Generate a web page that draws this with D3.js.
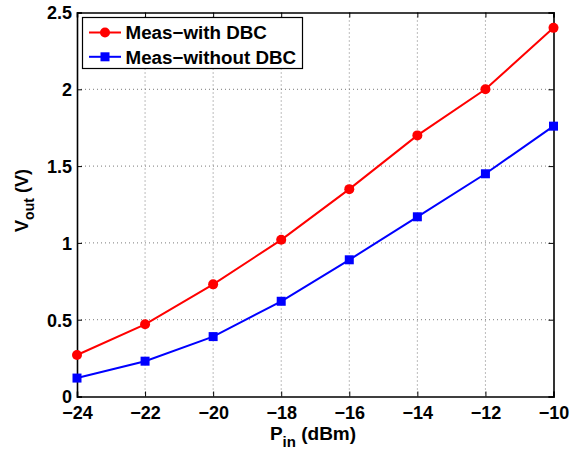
<!DOCTYPE html>
<html>
<head>
<meta charset="utf-8">
<script src="https://cdn.jsdelivr.net/npm/d3@7"></script>
<style>
  html, body { margin: 0; padding: 0; background: #fff; }
  svg { display: block; font-family: Arial, "Liberation Sans", Helvetica, sans-serif; }
</style>
</head>
<body>
<svg id="chart" width="574" height="449"></svg>
<script>
// Input power (dBm) and measured output voltage (V)
const pin = [-24, -22, -20, -18, -16, -14, -12, -10];
const withDBC = [0.27, 0.47, 0.73, 1.02, 1.35, 1.70, 2.00, 2.40];
const withoutDBC = [0.12, 0.23, 0.39, 0.62, 0.89, 1.17, 1.45, 1.76];
const xTicks = [-24, -22, -20, -18, -16, -14, -12, -10];
const yTicks = [0, 0.5, 1, 1.5, 2, 2.5];
const seriesNames = ["Meas\u2212with DBC", "Meas\u2212without DBC"];

const svg = d3.select("#chart");
const m = { left: 77, right: 574 - 553.5, top: 12.5, bottom: 449 - 396.5 };
const W = 574 - m.left - m.right;
const H = 449 - m.top - m.bottom;

const x = d3.scaleLinear().domain([-24, -10]).range([m.left, m.left + W]);
const y = d3.scaleLinear().domain([0, 2.5]).range([m.top + H, m.top]);

const g = svg.append("g");

// dotted grid
g.selectAll(".gx").data(xTicks.slice(1, -1)).enter().append("line")
  .attr("x1", d => x(d)).attr("x2", d => x(d))
  .attr("y1", m.top).attr("y2", m.top + H)
  .attr("stroke", "#7a7a7a").attr("stroke-width", 1).attr("stroke-dasharray", "1,3");
g.selectAll(".gy").data(yTicks.slice(1, -1)).enter().append("line")
  .attr("x1", m.left).attr("x2", m.left + W)
  .attr("y1", d => y(d)).attr("y2", d => y(d))
  .attr("stroke", "#7a7a7a").attr("stroke-width", 1).attr("stroke-dasharray", "1,3");

// axes with inward ticks on all four sides
const tickLen = 5;
const fmtY = d => (d === 0 ? "0" : d3.format("")(d));
const fmtX = d => d3.format("")(d).replace("-", "\u2212");

const axB = g.append("g").attr("transform", `translate(0,${m.top + H})`)
  .call(d3.axisBottom(x).tickValues(xTicks).tickSize(-tickLen).tickPadding(10).tickFormat(fmtX));
const axT = g.append("g").attr("transform", `translate(0,${m.top})`)
  .call(d3.axisTop(x).tickValues(xTicks).tickSize(-tickLen).tickFormat(""));
const axL = g.append("g").attr("transform", `translate(${m.left},0)`)
  .call(d3.axisLeft(y).tickValues(yTicks).tickSize(-tickLen).tickPadding(10).tickFormat(fmtY));
const axR = g.append("g").attr("transform", `translate(${m.left + W},0)`)
  .call(d3.axisRight(y).tickValues(yTicks).tickSize(-tickLen).tickFormat(""));

[axB, axT, axL, axR].forEach(a => {
  a.select(".domain").attr("stroke", "#000").attr("stroke-width", 1.6);
  a.selectAll(".tick line").attr("stroke", "#000").attr("stroke-width", 1);
  a.selectAll("text").attr("fill", "#000").attr("font-size", 18).attr("font-weight", "bold")
    .attr("font-family", "Arial, 'Liberation Sans', sans-serif");
});
axB.selectAll("text").attr("y", 10).attr("dy", "0.71em");
axL.selectAll("text").attr("x", -5).attr("dy", "0.36em");

// series lines and markers
const line = d3.line().x((d, i) => x(pin[i])).y(d => y(d));
const series = [
  { vals: withDBC, color: "#ff0000", shape: "circle" },
  { vals: withoutDBC, color: "#0000ff", shape: "square" }
];

function marker(sel, shape, color) {
  if (shape === "circle") {
    sel.append("circle").attr("r", 5).attr("fill", color);
  } else {
    sel.append("rect").attr("x", -4.5).attr("y", -4.5).attr("width", 9).attr("height", 9).attr("fill", color);
  }
}

series.forEach(s => {
  g.append("path").datum(s.vals).attr("d", line)
    .attr("fill", "none").attr("stroke", s.color).attr("stroke-width", 2);
  s.vals.forEach((v, i) => {
    const mk = g.append("g").attr("transform", `translate(${x(pin[i])},${y(v)})`);
    marker(mk, s.shape, s.color);
  });
});

// legend
const lg = g.append("g");
lg.append("rect").attr("x", 82.5).attr("y", 17.5).attr("width", 220).attr("height", 51)
  .attr("fill", "#fff").attr("stroke", "#000").attr("stroke-width", 1.2);
series.forEach((s, i) => {
  const yy = 32.5 + i * 24.3;
  lg.append("line").attr("x1", 89).attr("x2", 121).attr("y1", yy).attr("y2", yy)
    .attr("stroke", s.color).attr("stroke-width", 2);
  const mk = lg.append("g").attr("transform", `translate(105,${yy})`);
  marker(mk, s.shape, s.color);
  lg.append("text").attr("x", 125.5).attr("y", yy).attr("dy", "0.36em")
    .attr("font-size", 18.8).attr("font-weight", "bold").attr("fill", "#000")
    .text(seriesNames[i]);
});

// axis titles
const xt = g.append("text").attr("x", 313).attr("y", 440).attr("text-anchor", "middle")
  .attr("font-size", 19).attr("font-weight", "bold").attr("fill", "#000");
xt.append("tspan").text("P");
xt.append("tspan").attr("font-size", 15).attr("dy", 7).text("in");
xt.append("tspan").attr("dy", -7).text(" (dBm)");

const yt = g.append("text").attr("transform", `translate(28,${m.top + H / 2 - 4}) rotate(-90)`)
  .attr("text-anchor", "middle").attr("font-size", 18).attr("font-weight", "bold").attr("fill", "#000");
yt.append("tspan").text("V");
yt.append("tspan").attr("font-size", 14).attr("dy", 6).text("out");
yt.append("tspan").attr("dy", -6).text(" (V)");
</script>
</body>
</html>
